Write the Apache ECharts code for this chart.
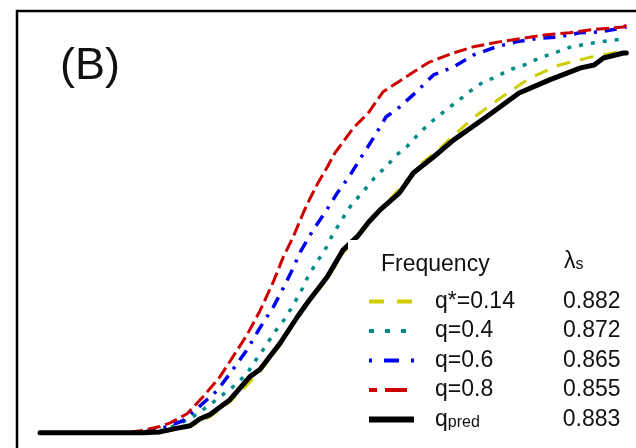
<!DOCTYPE html>
<html>
<head>
<meta charset="utf-8">
<script src="https://cdn.jsdelivr.net/npm/echarts@6/dist/echarts.min.js"></script>
<style>html,body{margin:0;padding:0;background:#fff;overflow:hidden;width:636px;height:448px}#c{width:720px;height:540px}</style>
</head>
<body>
<div id="c"></div>
<script>
// Series names and lambda values
const seriesNames = ['q*=0.14', 'q=0.4', 'q=0.6', 'q=0.8', 'qpred'];
const lambdaS = ['0.882', '0.872', '0.865', '0.855', '0.883'];
const panelLabel = '(B)';
const legendTitle = 'Frequency';

// Curves: [x, cumulative %]
const qStar014 = [[0,0],[17.6,0],[20.5,0.2],[23.0,0.7],[25.6,1.5],[27.3,2.7],[29.0,3.9],[32.4,7.5],[35.8,12.3],[37.5,14.8],[41.0,21.3],[43.9,27.8],[45.6,31.2],[49.0,37.3],[51.7,43.6],[54.1,47.2],[56.1,50.6],[59.2,55.7],[61.4,59.3],[64.8,64.9],[68.3,69.0],[71.0,72.6],[73.9,76.3],[79.0,81.6],[83.6,86.0],[88.6,89.1],[93.9,91.0],[98.8,92.3],[100,92.5]];
const q04 = [[0,0],[17.6,0],[21.3,0.7],[25.6,3.4],[28.7,6.5],[30.7,8.7],[32.9,11.1],[35.3,14.3],[36.7,17.4],[38.4,20.8],[39.8,24.0],[41.5,27.1],[43.0,30.5],[44.4,33.9],[45.4,37.0],[46.9,40.7],[48.6,44.3],[49.8,47.7],[51.7,52.1],[53.1,55.2],[55.1,58.4],[57.0,61.7],[59.0,64.4],[60.8,67.3],[62.5,69.2],[64.7,72.6],[66.7,75.3],[68.8,77.7],[71.0,80.1],[73.2,82.6],[75.6,85.0],[77.8,86.2],[80.0,87.9],[82.6,89.1],[85.2,90.8],[87.7,92.0],[90.6,93.5],[95.4,94.7],[98.3,95.2],[100,95.6]];
const q06 = [[0,0],[17.1,0],[21.0,1.2],[24.4,2.9],[27.3,6.5],[30.2,10.2],[32.9,15.3],[35.3,20.1],[37.5,25.4],[39.8,30.5],[41.5,35.1],[43.2,40.0],[44.4,43.8],[46.6,49.2],[48.6,53.3],[50.7,58.1],[52.7,62.0],[54.8,66.8],[57.0,71.7],[59.0,76.5],[61.3,78.9],[64.2,82.6],[67.1,86.7],[70.5,88.6],[73.9,91.5],[77.8,93.5],[81.2,94.7],[85.2,95.6],[88.6,95.9],[92.0,96.9],[95.4,97.1],[99.5,98.1],[100,98.3]];
const q08 = [[0,0],[15.0,0],[17.1,0.5],[20.5,1.5],[22.2,2.4],[25.1,4.6],[27.8,8.7],[30.7,13.6],[32.9,18.4],[35.3,23.7],[37.5,29.5],[39.8,36.6],[41.5,42.6],[43.2,47.5],[44.9,53.3],[46.1,56.9],[47.4,60.5],[49.0,64.4],[50.3,67.8],[51.7,70.5],[53.4,73.8],[56.0,77.5],[58.5,82.6],[61.1,85.0],[63.7,87.4],[66.4,89.8],[70.5,92.0],[73.9,93.5],[78.3,94.7],[82.4,95.6],[86.3,96.4],[90.3,96.9],[93.7,97.6],[99.5,98.3],[100,98.8]];
const qPred = [[0,0],[17.6,0],[20.5,0.2],[23.0,1.0],[25.6,1.7],[27.3,3.4],[29.0,4.4],[32.4,8.0],[35.8,13.6],[37.5,15.3],[41.0,21.8],[43.9,28.1],[45.6,31.5],[49.0,37.8],[51.7,44.3],[54.1,47.5],[56.1,51.1],[58.0,54.0],[61.3,58.1],[63.7,63.0],[67.1,66.8],[70.5,70.9],[76.1,76.5],[81.7,82.3],[86.9,85.5],[92.2,88.4],[94.5,89.1],[96.1,90.8],[99.5,92.0],[100,92.0]];

const seriesData = [qStar014, q04, q06, q08, qPred];
const colors = ['#CDCD00', '#008B8B', '#0000EE', '#CD0000', '#000000'];
const dashes = [[14,10], [4,8], [3,8,12,8], [13,5], 'solid'];
const widths = [3, 3.5, 3.5, 3, 5];
const legendDashes = [[15,13], [5,11], [3,12,15,12], [22,8], 'solid'];
const legendDashOffsets = [0, 0, 0, 14, 0];
const legendWidths = [4, 4, 4, 4, 6];

const FONT = '"Liberation Sans", Arial, sans-serif';

const chart = echarts.init(document.getElementById('c'), null, {renderer: 'canvas', width: 720, height: 540});

const series = seriesData.map((d, i) => ({
  name: seriesNames[i],
  type: 'line',
  data: d,
  symbol: 'none',
  smooth: false,
  animation: false,
  lineStyle: {color: colors[i], width: widths[i], type: dashes[i], cap: i === 4 ? 'round' : 'butt', join: 'round'},
  itemStyle: {color: colors[i]},
  z: 2 + i
}));

chart.setOption({
  animation: false,
  backgroundColor: '#fff',
  grid: {show: true, left: 17, top: 11, width: 668, height: 463, borderColor: '#000', borderWidth: 2.5, backgroundColor: 'transparent'},
  xAxis: {type: 'value', min: -3.925, max: 110, show: false},
  yAxis: {type: 'value', min: -10, max: 102.18, show: false},
  legend: {
    orient: 'vertical',
    left: 348, top: 240,
    padding: [50, 80, 40, 18],
    backgroundColor: '#fff',
    selectedMode: false,
    itemWidth: 45, itemHeight: 14, itemGap: 6.5,
    itemStyle: {opacity: 0},
    z: 20,
    data: seriesNames.map((n, i) => ({
      name: n,
      lineStyle: {color: colors[i], width: legendWidths[i], type: legendDashes[i], dashOffset: legendDashOffsets[i], cap: 'butt'}
    })),
    textStyle: {fontFamily: FONT, fontSize: 23, color: '#111',
      rich: {
        sp: {width: 16, fontSize: 23, lineHeight: 23},
        n: {width: 128, fontSize: 23, lineHeight: 23, fontFamily: FONT, color: '#111'},
        q: {fontSize: 23, lineHeight: 23, fontFamily: FONT, color: '#111'},
        s: {width: 115, fontSize: 16, lineHeight: 12, verticalAlign: 'bottom', fontFamily: FONT, color: '#111'},
        v: {fontSize: 23, lineHeight: 23, fontFamily: FONT, color: '#111'}
      }
    },
    formatter: function (name) {
      const i = seriesNames.indexOf(name);
      if (name === 'qpred') return '{sp| }{q|q}{s|pred}{v|' + lambdaS[i] + '}';
      return '{sp| }{n|' + name + '}{v|' + lambdaS[i] + '}';
    }
  },
  graphic: [
    {type: 'text', left: 60, top: 44, z: 30, style: {text: panelLabel, font: '45px ' + FONT, fill: '#111'}},
    {type: 'text', left: 381, top: 253, z: 30, style: {text: legendTitle, font: '23px ' + FONT, fill: '#111'}},
    {type: 'text', left: 564, top: 250, z: 30, style: {
      text: '{a|λ}{b|s}',
      rich: {a: {fontSize: 23, lineHeight: 23, fontFamily: FONT, fill: '#111', color: '#111'},
             b: {fontSize: 16, lineHeight: 12, verticalAlign: 'bottom', fontFamily: FONT, fill: '#111', color: '#111'}}
    }}
  ],
  series: series
});
</script>
</body>
</html>
